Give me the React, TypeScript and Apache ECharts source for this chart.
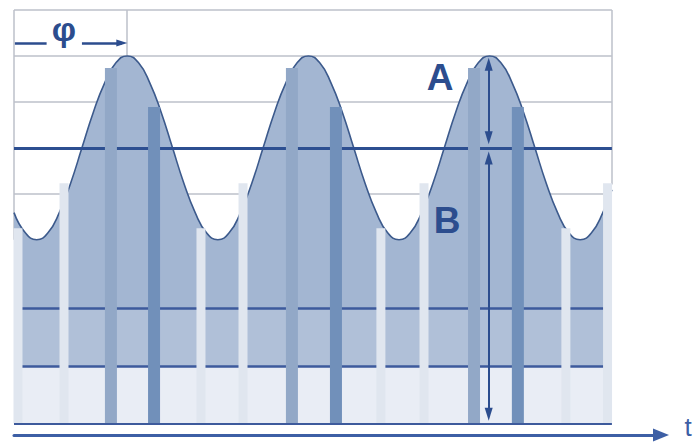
import React, { useEffect, useRef } from "react";
import * as echarts from "echarts";

// time axis (t) positions of the traced waveform, and its read levels
const timeValues = [
  0, 0.625, 1.25, 1.875, 2.5, 3.125, 3.75, 4.375, 5, 5.625,
  6.25, 6.875, 7.5, 8.125, 8.75, 9.375, 10, 10.625, 11.25, 11.875,
  12.5, 13.125, 13.75, 14.375, 15, 15.625, 16.25, 16.875, 17.5, 18.125,
  18.75, 19.375, 20, 20.625, 21.25, 21.875, 22.5, 23.125, 23.75, 24.375,
  25, 25.625, 26.25, 26.875, 27.5, 28.125, 28.75, 29.375, 30, 30.625,
  31.25, 31.875, 32.5, 33,
];
const signalValues = [
  4.59, 4.15, 4.0, 4.15, 4.59, 5.23, 6.0, 6.77, 7.41, 7.85,
  8.0, 7.85, 7.41, 6.77, 6.0, 5.23, 4.59, 4.15, 4.0, 4.15,
  4.59, 5.23, 6.0, 6.77, 7.41, 7.85, 8.0, 7.85, 7.41, 6.77,
  6.0, 5.23, 4.59, 4.15, 4.0, 4.15, 4.59, 5.23, 6.0, 6.77,
  7.41, 7.85, 8.0, 7.85, 7.41, 6.77, 6.0, 5.23, 4.59, 4.15,
  4.0, 4.15, 4.59, 5.09,
];

// pale sample columns
const paleBarTimes = [0.22, 2.76, 10.32, 12.64, 20.25, 22.63, 30.46, 32.76];
const paleBarValues = [4.25, 5.23, 4.25, 5.23, 4.25, 5.23, 4.25, 5.23];

// dark sample columns
const darkBarTimes = [5.35, 7.73, 15.34, 17.77, 25.39, 27.81];
const darkBarValues = [7.74, 6.89, 7.74, 6.89, 7.74, 6.89];

// levels
const gridLevels = [9, 8, 7, 5];
const meanLevel = 6; // B
const peakLevel = 8; // B + A
const bandLevels = [2.5, 1.25];
const baseLevel = 0;
const topLevel = 9;
const tStart = 0;
const tEnd = 33;
const tAxisMax = 35.71;
const phaseTime = 6.25; // φ
const ampTime = 26.2;
const phaseArrowLevel = 8.28;

const DARK = "#2c4d8e";

export default function App() {
  const ref = useRef<HTMLDivElement>(null);

  useEffect(() => {
    if (!ref.current) return;
    const chart = echarts.init(ref.current, undefined, { renderer: "svg" });

    const option: any = {
      animation: false,
      backgroundColor: "#ffffff",
      grid: { left: 14, right: 36, top: 10, bottom: 8, outerBoundsMode: "none", containLabel: false },
      xAxis: [
        {
          type: "value",
          min: 0,
          max: tAxisMax,
          axisLine: {
            show: true,
            onZero: false,
            symbol: ["none", "triangle"],
            symbolSize: [13, 16],
            lineStyle: { color: "#3d5fa5", width: 3 },
          },
          axisTick: { show: false },
          axisLabel: { show: false },
          splitLine: { show: false },
        },
        { type: "value", min: 0, max: tAxisMax, show: false },
        { type: "value", min: 0, max: tAxisMax, show: false },
      ],
      yAxis: {
        type: "value",
        min: -0.25,
        max: 9,
        show: false,
        splitLine: { show: false },
      },
      series: [
        {
          name: "grid",
          type: "line",
          data: [],
          silent: true,
          markLine: {
            z: 1,
            silent: true,
            symbol: ["none", "none"],
            label: { show: false },
            lineStyle: { color: "#bcc1ca", width: 1.5, type: "solid" },
            data: [
              ...gridLevels.map((v) => [
                { coord: [tStart, v] },
                { coord: [tEnd, v] },
              ]),
              [{ coord: [tStart, topLevel] }, { coord: [tStart, 4] }],
              [{ coord: [tEnd, topLevel] }, { coord: [tEnd, 5.2] }],
              [{ coord: [phaseTime, topLevel] }, { coord: [phaseTime, peakLevel] }],
            ],
          },
        },
        {
          name: "signal",
          type: "line",
          z: 3,
          smooth: true,
          symbol: "none",
          silent: true,
          lineStyle: { color: "#3c5a8c", width: 1.6 },
          areaStyle: { color: "#a3b6d2", opacity: 1 },
          data: timeValues.map((t, i) => [t, signalValues[i]]),
        },
        {
          name: "bands",
          type: "line",
          data: [],
          silent: true,
          markArea: {
            z: 4,
            silent: true,
            label: { show: false },
            data: [
              [
                { coord: [tStart, baseLevel], itemStyle: { color: "#e9edf5", opacity: 1 } },
                { coord: [tEnd, bandLevels[1]] },
              ],
              [
                { coord: [tStart, bandLevels[1]], itemStyle: { color: "rgba(255,255,255,0.14)", opacity: 1 } },
                { coord: [tEnd, bandLevels[0]] },
              ],
            ],
          },
        },
        {
          name: "levels",
          type: "line",
          data: [],
          silent: true,
          markLine: {
            z: 5,
            silent: true,
            symbol: ["none", "none"],
            label: { show: false },
            data: [
              [
                { coord: [tStart, meanLevel], lineStyle: { color: "#2d4f91", width: 3, type: "solid" } },
                { coord: [tEnd, meanLevel] },
              ],
              ...bandLevels.map((v) => [
                { coord: [tStart, v], lineStyle: { color: "#3d5a9c", width: 2.5, type: "solid" } },
                { coord: [tEnd, v] },
              ]),
            ],
          },
        },
        {
          name: "pale",
          type: "bar",
          xAxisIndex: 1,
          z: 6,
          barWidth: 9,
          silent: true,
          itemStyle: { color: "#e0e6ef" },
          data: paleBarTimes.map((t, i) => [t, paleBarValues[i]]),
        },
        {
          name: "dark",
          type: "bar",
          xAxisIndex: 2,
          z: 6,
          barWidth: 12,
          silent: true,
          itemStyle: {
            color: (p: any) => (p.dataIndex % 2 === 0 ? "#92a8c7" : "#7190ba"),
          },
          data: darkBarTimes.map((t, i) => [t, darkBarValues[i]]),
        },
        {
          name: "annotations",
          type: "line",
          data: [],
          silent: true,
          markLine: {
            z: 7,
            silent: true,
            label: { show: false },
            symbolSize: [8, 13],
            data: [
              [
                { coord: [tStart, baseLevel], symbol: "none", lineStyle: { color: "#3d5a9c", width: 2, type: "solid" } },
                { coord: [tEnd, baseLevel], symbol: "none" },
              ],
              [
                { coord: [ampTime, peakLevel - 0.18], symbol: "triangle", lineStyle: { color: DARK, width: 2, type: "solid" } },
                { coord: [ampTime, meanLevel + 0.22], symbol: "triangle" },
              ],
              [
                { coord: [ampTime, meanLevel - 0.22], symbol: "triangle", lineStyle: { color: DARK, width: 2, type: "solid" } },
                { coord: [ampTime, baseLevel + 0.2], symbol: "triangle" },
              ],
              [
                { coord: [0.05, phaseArrowLevel], symbol: "none", lineStyle: { color: DARK, width: 2.5, type: "solid" } },
                { coord: [1.8, phaseArrowLevel], symbol: "none" },
              ],
              [
                { coord: [3.75, phaseArrowLevel], symbol: "none", lineStyle: { color: DARK, width: 2.5, type: "solid" } },
                { coord: [phaseTime - 0.3, phaseArrowLevel], symbol: "triangle", symbolSize: [7, 11] },
              ],
            ],
          },
        },
      ],
      graphic: [
        {
          type: "text",
          z: 10,
          x: 64,
          y: 29,
          style: {
            text: "φ",
            align: "center",
            verticalAlign: "middle",
            font: 'bold 34px "Liberation Sans"',
            fill: DARK,
          },
        },
        {
          type: "text",
          z: 10,
          x: 440,
          y: 77,
          style: {
            text: "A",
            align: "center",
            verticalAlign: "middle",
            font: 'bold 37px "Liberation Sans"',
            fill: DARK,
          },
        },
        {
          type: "text",
          z: 10,
          x: 447,
          y: 220,
          style: {
            text: "B",
            align: "center",
            verticalAlign: "middle",
            font: 'bold 37px "Liberation Sans"',
            fill: DARK,
          },
        },
        {
          type: "text",
          z: 10,
          x: 688,
          y: 427,
          style: {
            text: "t",
            align: "center",
            verticalAlign: "middle",
            font: '26px "Liberation Sans"',
            fill: "#3d5fa5",
          },
        },
      ],
    };

    chart.setOption(option);
    return () => chart.dispose();
  }, []);

  return (
    <div
      ref={ref}
      style={{ position: "fixed", left: 0, top: 0, width: 697, height: 443 }}
    />
  );
}
